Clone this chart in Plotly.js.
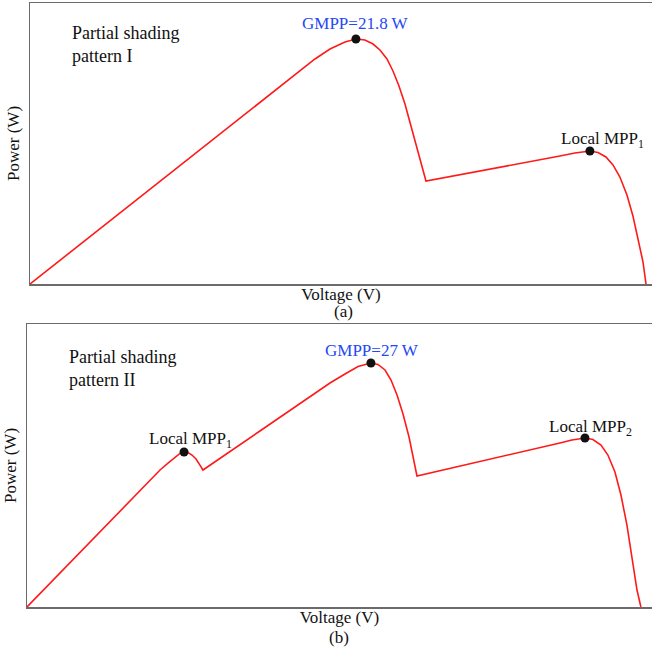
<!DOCTYPE html>
<html>
<head>
<meta charset="utf-8">
<script src="https://cdn.plot.ly/plotly-3.0.1.min.js"></script>
<style>html,body{margin:0;padding:0;background:#fff;}#chart{width:652px;height:653px;}</style>
</head>
<body>
<div id="chart"></div>
<script>
// Panel (a): Partial shading pattern I
const voltageA = [0, 8.0, 14.67, 18.0, 19.0, 20.0, 21.0, 21.73, 22.33, 22.87, 23.33, 23.8, 24.2, 24.6, 25.0, 25.4, 25.87, 26.4, 35.33, 36.33, 37.33, 37.87, 38.4, 38.87, 39.33, 39.8, 40.2, 40.6, 40.87, 41.07];
const powerA   = [0, 8.45, 15.51, 19.0, 20.02, 20.91, 21.53, 21.8, 21.71, 21.35, 20.82, 20.02, 18.95, 17.62, 16.01, 14.06, 11.74, 9.16, 11.39, 11.65, 11.83, 11.7, 11.3, 10.59, 9.52, 7.92, 6.05, 3.65, 1.96, 0];
const markVA = [21.73, 37.33];
const markPA = [21.8, 11.83];
const labelsA = ["GMPP=21.8 W", "Local MPP<sub>1</sub>"];

// Panel (b): Partial shading pattern II
const voltageB = [0, 4.87, 8.2, 8.87, 9.4, 9.87, 10.2, 10.47, 10.73, 11.0, 11.27, 11.53, 11.73, 15.53, 20.2, 21.2, 22.07, 22.93, 23.4, 23.87, 24.27, 24.67, 25.07, 25.47, 26.0, 35.53, 36.33, 37.2, 37.73, 38.27, 38.73, 39.2, 39.6, 40.0, 40.4, 40.67, 40.93];
const powerB   = [0, 8.35, 14.05, 15.16, 15.93, 16.6, 16.99, 17.15, 17.1, 16.82, 16.38, 15.71, 15.16, 19.48, 24.79, 25.78, 26.61, 27.0, 26.84, 26.23, 25.12, 23.46, 21.36, 18.81, 14.5, 18.15, 18.48, 18.7, 18.53, 17.93, 16.82, 14.94, 12.39, 9.07, 4.98, 1.88, 0];
const markVB = [10.47, 22.93, 37.2];
const markPB = [17.15, 27.0, 18.7];
const labelsB = ["Local MPP<sub>1</sub>", "GMPP=27 W", "Local MPP<sub>2</sub>"];

const FONT = "Liberation Serif, Times New Roman, serif";
const BLUE = "#2448f5";

const traces = [
  {x: voltageA, y: powerA, xaxis: "x", yaxis: "y", mode: "lines", line: {color: "#ff1a1a", width: 1.6, shape: "linear"}, hoverinfo: "skip"},
  {x: markVA, y: markPA, xaxis: "x", yaxis: "y", mode: "markers", marker: {color: "#111", size: 9}},
  {x: voltageB, y: powerB, xaxis: "x2", yaxis: "y2", mode: "lines", line: {color: "#ff1a1a", width: 1.6, shape: "linear"}, hoverinfo: "skip"},
  {x: markVB, y: markPB, xaxis: "x2", yaxis: "y2", mode: "markers", marker: {color: "#111", size: 9}}
];

const axBase = {showgrid: false, zeroline: false, showticklabels: false, ticks: "", showline: true, linecolor: "#6b6b6b", linewidth: 1.5, fixedrange: true};

const shiftsA = [4, -2];
const shiftsB = [-1, 1, -3];
const annotations = [];
labelsA.forEach((t, i) => annotations.push({x: markVA[i], y: markPA[i], xref: "x", yref: "y", text: t, showarrow: false, yanchor: "bottom", yshift: shiftsA[i], xshift: i === 1 ? 13 : 0,
  font: {family: FONT, size: 17, color: i === 0 ? BLUE : "#111"}}));
labelsB.forEach((t, i) => annotations.push({x: markVB[i], y: markPB[i], xref: "x2", yref: "y2", text: t, showarrow: false, yanchor: "bottom", yshift: shiftsB[i], xshift: i === 1 ? 1 : 6,
  font: {family: FONT, size: 17, color: i === 1 ? BLUE : "#111"}}));
annotations.push({x: 70/652, y: 1 - 21/653, xref: "paper", yref: "paper", xanchor: "left", yanchor: "top", align: "left", showarrow: false,
  text: "Partial shading<br>pattern I", font: {family: FONT, size: 18, color: "#111"}});
annotations.push({x: 67/652, y: 1 - 345/653, xref: "paper", yref: "paper", xanchor: "left", yanchor: "top", align: "left", showarrow: false,
  text: "Partial shading<br>pattern II", font: {family: FONT, size: 18, color: "#111"}});
annotations.push({x: 343/652, y: 1 - 312/653, xref: "paper", yref: "paper", xanchor: "center", yanchor: "middle", showarrow: false, text: "(a)", font: {family: FONT, size: 17, color: "#111"}});
annotations.push({x: 339/652, y: 1 - 637/653, xref: "paper", yref: "paper", xanchor: "center", yanchor: "middle", showarrow: false, text: "(b)", font: {family: FONT, size: 17, color: "#111"}});

const titleFont = {family: FONT, size: 17, color: "#111"};
const layout = {
  width: 652, height: 653,
  margin: {l: 0, r: 0, t: 0, b: 0},
  paper_bgcolor: "#fff", plot_bgcolor: "#fff",
  showlegend: false,
  font: {family: FONT, size: 16, color: "#111"},
  xaxis: Object.assign({}, axBase, {domain: [30/652, 1], range: [0, 41.47], mirror: true, anchor: "y",
    title: {text: "Voltage (V)", standoff: 3, font: titleFont}}),
  yaxis: Object.assign({}, axBase, {domain: [1 - 284/653, 1 - 3/653], range: [0, 25.0], anchor: "x",
    title: {text: "Power (W)", standoff: 4, font: titleFont}}),
  xaxis2: Object.assign({}, axBase, {domain: [27/652, 1], range: [0, 41.67], mirror: true, anchor: "y2",
    title: {text: "Voltage (V)", standoff: 3, font: titleFont}}),
  yaxis2: Object.assign({}, axBase, {domain: [1 - 607/653, 1 - 324/653], range: [0, 31.32], anchor: "x2",
    title: {text: "Power (W)", standoff: 4, font: titleFont}}),
  annotations: annotations
};

Plotly.newPlot("chart", traces, layout, {displayModeBar: false, staticPlot: true});
</script>
</body>
</html>
